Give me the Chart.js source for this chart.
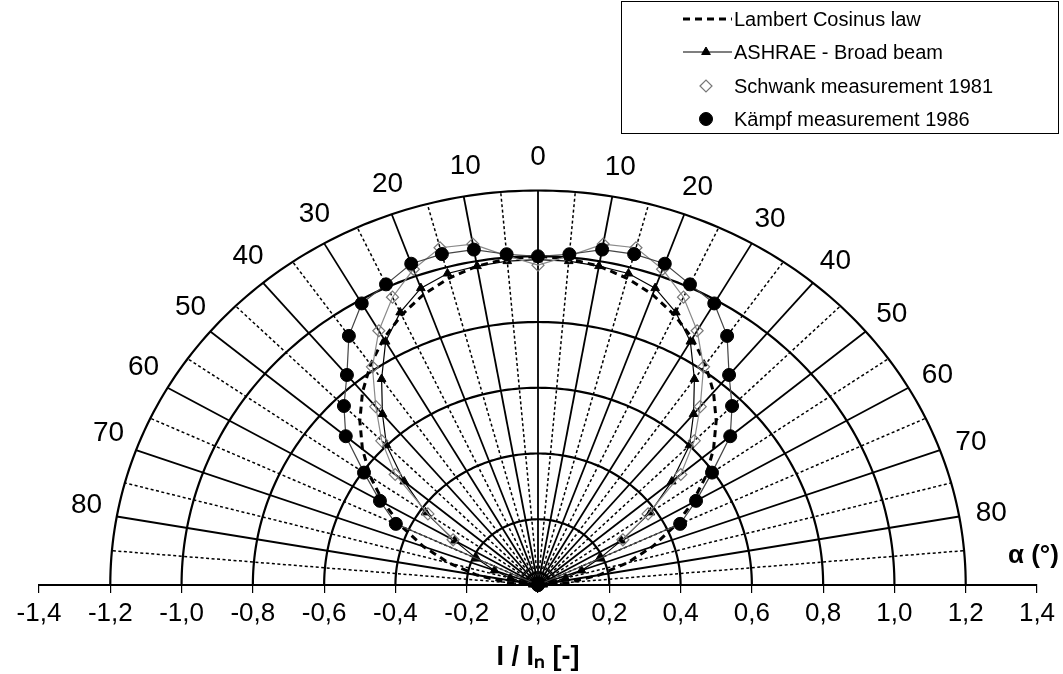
<!DOCTYPE html>
<html><head><meta charset="utf-8">
<script src="https://cdn.jsdelivr.net/npm/chart.js@4.4.0/dist/chart.umd.min.js"></script>
<style>html,body{margin:0;padding:0;background:#fff}#wrap{width:1063px;height:674px}</style>
</head><body><div id="wrap"><canvas id="c" width="1063" height="674"></canvas></div>
<script>
// ---- data (angles in degrees from the normal, r = I/In) ----
const lambertAngles = [0,5,10,15,20,25,30,35,40,45,50,55,60,65,70,75,80,85,90];
const lambertValues = [1.000,0.996,0.985,0.966,0.940,0.906,0.866,0.819,0.766,0.707,0.643,0.574,0.500,0.423,0.342,0.259,0.174,0.087,0.000];
const ashraeAngles = [0,5,10,15,20,25,30,35,40,45,50,55,60,65,70,75,80,85,90];
const ashraeValues = [0.99,0.989,0.985,0.981,0.961,0.915,0.855,0.765,0.679,0.601,0.490,0.385,0.27,0.19,0.13,0.08,0.04,0.015,0.0];
const schwankAngles = [0,5,10,15,20,25,30,35,40,45,50,55,60];
const schwankValues = [0.973,1.005,1.053,1.062,1.022,0.966,0.893,0.810,0.708,0.620,0.523,0.377,0.275];
const kampfAngles = [0,5,10,15,20,25,30,35,40,45,50,55,60,65,90];
const kampfValues = [1.000,1.010,1.036,1.042,1.040,1.009,0.989,0.925,0.834,0.770,0.704,0.596,0.512,0.440,0.0];
const xTicks = [-1.4,-1.2,-1.0,-0.8,-0.6,-0.4,-0.2,0,0.2,0.4,0.6,0.8,1.0,1.2,1.4];
const gridRadii = [0.2,0.4,0.6,0.8,1.0,1.2];
const radialAngles = [-90,-85,-80,-75,-70,-65,-60,-55,-50,-45,-40,-35,-30,-25,-20,-15,-10,-5,0,5,10,15,20,25,30,35,40,45,50,55,60,65,70,75,80,85,90];
const angleLabels = [0,10,20,30,40,50,60,70,80];
const seriesLabels = ['Lambert Cosinus law','ASHRAE - Broad beam','Schwank measurement 1981','Kämpf measurement 1986'];

const rad = d => d*Math.PI/180;
function polar(angles, vals){
  const pts = [];
  for (let i = angles.length-1; i >= 1; i--) pts.push({x:-vals[i]*Math.sin(rad(angles[i])), y: vals[i]*Math.cos(rad(angles[i]))});
  pts.push({x:0, y: vals[0]});
  for (let i = 1; i < angles.length; i++) pts.push({x: vals[i]*Math.sin(rad(angles[i])), y: vals[i]*Math.cos(rad(angles[i]))});
  return pts;
}

const FONT = "'Liberation Sans', Arial, sans-serif";

const polarGrid = {
  id:'polarGrid',
  beforeDatasetsDraw(chart){
    const {ctx, scales:{x,y}} = chart;
    const P = (r,a)=>[x.getPixelForValue(r*Math.sin(rad(a))), y.getPixelForValue(r*Math.cos(rad(a)))];
    const rMax = gridRadii[gridRadii.length-1];
    ctx.save();
    ctx.strokeStyle = '#000';
    radialAngles.forEach(a=>{
      const major = a % 10 === 0;
      ctx.setLineDash(major ? [] : [3,2.5]);
      ctx.lineWidth = major ? 1.8 : 1.5;
      const [x0,y0] = P(0,a), [x1,y1] = P(rMax,a);
      ctx.beginPath(); ctx.moveTo(x0,y0); ctx.lineTo(x1,y1); ctx.stroke();
    });
    ctx.setLineDash([]);
    ctx.lineWidth = 2.2;
    gridRadii.forEach(r=>{
      ctx.beginPath();
      for (let a=-90; a<=90; a+=1){ const [px,py]=P(r,a); if(a===-90) ctx.moveTo(px,py); else ctx.lineTo(px,py); }
      ctx.stroke();
    });
    ctx.fillStyle = '#000';
    ctx.font = "28px " + FONT;
    ctx.textAlign = 'center'; ctx.textBaseline = 'middle';
    angleLabels.forEach(a=>{
      const r = a===0 ? 1.30 : 1.29;
      if (a===0){ const [px,py]=P(r,0); ctx.fillText(String(a),px,py); return; }
      let [px,py]=P(r,-(a-0.9)); ctx.fillText(String(a),px,py);
      [px,py]=P(r,a+0.3); ctx.fillText(String(a),px,py);
    });
    ctx.font = "bold 26px " + FONT;
    ctx.fillText('α (°)', x.getPixelForValue(1.39), y.getPixelForValue(0.088));
    ctx.restore();
  }
};

const customLegend = {
  id:'customLegend',
  afterDraw(chart){
    const {ctx} = chart;
    ctx.save();
    ctx.strokeStyle = '#000'; ctx.lineWidth = 1;
    ctx.strokeRect(621.5, 1.5, 437, 132);
    const rows = [19, 52, 86, 119];
    chart.data.datasets.forEach((ds,i)=>{
      const yy = rows[i];
      if (ds.legendLine){
        ctx.strokeStyle = ds.borderColor; ctx.lineWidth = ds.borderWidth;
        ctx.setLineDash(ds.borderDash || []);
        ctx.beginPath(); ctx.moveTo(683, yy); ctx.lineTo(732, yy); ctx.stroke();
        ctx.setLineDash([]);
      }
      if (ds.pointRadius > 0){
        ctx.fillStyle = ds.pointBackgroundColor; ctx.strokeStyle = ds.pointBorderColor; ctx.lineWidth = ds.pointBorderWidth;
        Chart.helpers.drawPoint(ctx, {pointStyle: ds.pointStyle, radius: ds.pointRadius, rotation:0, borderWidth: ds.pointBorderWidth}, 706, yy);
      }
      ctx.fillStyle = '#000';
      ctx.font = "20px " + FONT;
      ctx.textAlign = 'left'; ctx.textBaseline = 'middle';
      ctx.fillText(ds.label, 734, yy+1);
    });
    ctx.restore();
  }
};

new Chart(document.getElementById('c'), {
  type:'scatter',
  data:{
    datasets:[
      {label:seriesLabels[0], data: polar(lambertAngles, lambertValues), showLine:true, tension:0,
       borderColor:'#000', borderWidth:3, borderDash:[7,5], pointRadius:0, legendLine:true, order:4, clip:false},
      {label:seriesLabels[1], data: polar(ashraeAngles, ashraeValues), showLine:true, tension:0,
       borderColor:'#000', borderWidth:1.2, pointStyle:'triangle', pointRadius:5,
       pointBackgroundColor:'#000', pointBorderColor:'#000', pointBorderWidth:1, legendLine:true, order:3, clip:false},
      {label:seriesLabels[2], data: polar(schwankAngles, schwankValues), showLine:true, tension:0,
       borderColor:'#8a8a8a', borderWidth:1.2, pointStyle:'rectRot', pointRadius:6,
       pointBackgroundColor:'rgba(255,255,255,0)', pointBorderColor:'#777', pointBorderWidth:1.2, legendLine:false, order:2, clip:false},
      {label:seriesLabels[3], data: polar(kampfAngles, kampfValues), showLine:true, tension:0,
       borderColor:'#444', borderWidth:1.2, pointStyle:'circle', pointRadius:6.5,
       pointBackgroundColor:'#000', pointBorderColor:'#000', pointBorderWidth:1, legendLine:false, order:1, clip:false}
    ]
  },
  options:{
    responsive:false, animation:false, devicePixelRatio:1,
    layout:{padding:{top:59, left:39, right:26, bottom:0}},
    plugins:{legend:{display:false}, tooltip:{enabled:false}},
    scales:{
      x:{type:'linear', min:-1.4, max:1.4,
        afterBuildTicks(s){ s.ticks = xTicks.map(v=>({value:v})); },
        ticks:{autoSkip:false, maxRotation:0, color:'#000', padding:5,
          font:{family:FONT, size:26},
          callback:(v)=> (Math.abs(v)<1e-9?0:v).toFixed(1).replace('.',',')},
        grid:{drawOnChartArea:false, drawTicks:true, tickLength:8, color:'#000', lineWidth:1.2},
        border:{display:true, color:'#000', width:2},
        title:{display:true, text:'I / Iₙ [-]', color:'#000', font:{family:FONT, size:27, weight:'bold'}, padding:{top:0,bottom:0}},
        afterFit(s){ s.height = 89; }
      },
      y:{type:'linear', min:0, max:1.6, display:false}
    }
  },
  plugins:[polarGrid, customLegend]
});
</script></body></html>
